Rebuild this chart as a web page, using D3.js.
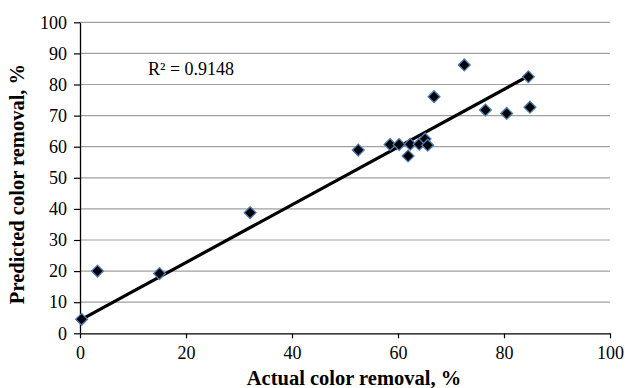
<!DOCTYPE html>
<html>
<head>
<meta charset="utf-8">
<script src="https://cdn.jsdelivr.net/npm/d3@7"></script>
<style>
  html, body { margin: 0; padding: 0; background: #fff; }
  svg { display: block; font-family: "Liberation Serif", "Times New Roman", serif; }
</style>
</head>
<body>
<svg id="chart" width="625" height="388"></svg>
<script>
// Actual vs predicted colour removal (%)
const actual    = [0.3, 3.3, 15.0, 32.1, 52.5, 58.5, 60.2, 61.9, 62.3, 64.0, 65.1, 65.6, 66.8, 72.5, 76.5, 80.5, 84.6, 84.9];
const predicted = [4.5, 20.0, 19.2, 38.8, 58.9, 60.7, 60.7, 57.0, 60.8, 60.8, 62.5, 60.5, 76.1, 86.3, 71.8, 70.7, 82.5, 72.7];
// linear trend: predicted = trendSlope * actual + trendIntercept
const trendSlope = 0.928;
const trendIntercept = 4.2;
const xTicks = [0, 20, 40, 60, 80, 100];
const yTicks = [0, 10, 20, 30, 40, 50, 60, 70, 80, 90, 100];
const r2Label = "R² = 0.9148";
const xTitle = "Actual color removal, %";
const yTitle = "Predicted color removal, %";

const svg = d3.select("#chart");
const plotLeft = 80, plotRight = 610, plotTop = 22.3, plotBottom = 333.3;

const x = d3.scaleLinear().domain([0, 100]).range([plotLeft, plotRight]);
const y = d3.scaleLinear().domain([0, 100]).range([plotBottom, plotTop]);

// horizontal gridlines
svg.append("g").selectAll("line")
  .data(yTicks.filter(d => d > 0))
  .join("line")
  .attr("x1", plotLeft).attr("x2", plotRight)
  .attr("y1", d => y(d)).attr("y2", d => y(d))
  .attr("stroke", "#a0a0a0").attr("stroke-width", 1.2);

// axes
const xAxis = d3.axisBottom(x).tickValues(xTicks).tickSize(5).tickPadding(8).tickSizeOuter(0);
const yAxis = d3.axisLeft(y).tickValues(yTicks).tickSize(6).tickPadding(7).tickSizeOuter(0);

const gx = svg.append("g").attr("transform", `translate(0,${plotBottom})`).call(xAxis);
const gy = svg.append("g").attr("transform", `translate(${plotLeft},0)`).call(yAxis);
[gx, gy].forEach(g => {
  g.select(".domain").attr("stroke", "#000").attr("stroke-width", 1.3);
  g.selectAll(".tick line").attr("stroke", "#000").attr("stroke-width", 1.2);
  g.selectAll(".tick text")
    .attr("fill", "#000")
    .style("font-family", '"Liberation Serif", serif')
    .style("font-size", "18px");
});

// trend line across the range of the data
const [xmin, xmax] = d3.extent(actual);
svg.append("line")
  .attr("x1", x(xmin)).attr("y1", y(trendIntercept + trendSlope * xmin))
  .attr("x2", x(xmax)).attr("y2", y(trendIntercept + trendSlope * xmax))
  .attr("stroke", "#000").attr("stroke-width", 3.2).attr("stroke-linecap", "butt");

// diamond markers
const diamond = d3.symbol().type(d3.symbolSquare).size(70);
svg.append("g").selectAll("path")
  .data(actual.map((a, i) => [a, predicted[i]]))
  .join("path")
  .attr("d", diamond)
  .attr("transform", d => `translate(${x(d[0])},${y(d[1])}) rotate(45)`)
  .attr("fill", "#000")
  .attr("stroke", "#4a7ebb")
  .attr("stroke-width", 1.3);

// R² annotation
svg.append("text")
  .attr("x", 148).attr("y", 75)
  .style("font-size", "18px")
  .text(r2Label);

// axis titles
svg.append("text")
  .attr("x", 354).attr("y", 385)
  .attr("text-anchor", "middle")
  .style("font-size", "20.5px").style("font-weight", "bold")
  .text(xTitle);

svg.append("text")
  .attr("transform", `translate(24,184) rotate(-90)`)
  .attr("text-anchor", "middle")
  .style("font-size", "20.5px").style("font-weight", "bold")
  .text(yTitle);
</script>
</body>
</html>
